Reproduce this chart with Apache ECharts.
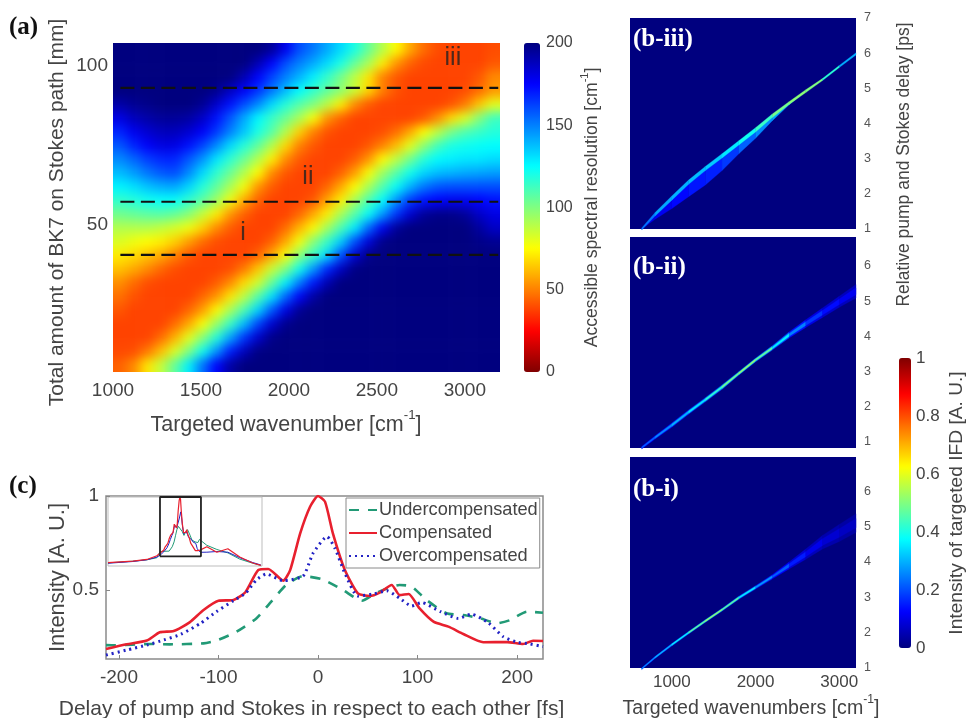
<!DOCTYPE html>
<html><head><meta charset="utf-8">
<style>html,body{margin:0;padding:0;background:#fff}#c{width:966px;height:718px}</style>
<script src="https://cdn.jsdelivr.net/npm/echarts@6/dist/echarts.min.js"></script>
</head><body><div id="c"></div>
<script>
// ---- panel (a): accessible spectral resolution, rows top to bottom
const resolutionRows = [
[200,200,200,200,200,200,200,200,200,200,200,195,178,160,152,142,132,120,105,90,75,58,46,40,38,38,38,40],
[200,200,200,200,200,200,200,200,200,200,190,175,160,150,142,132,120,105,92,72,54,44,39,38,38,38,38,42],
[200,200,200,200,200,200,200,200,200,190,175,162,150,140,128,115,102,88,70,50,42,38,38,38,38,38,42,52],
[200,200,200,200,200,200,200,197,187,176,165,152,138,125,115,106,97,85,67,50,41,38,38,38,38,40,46,55],
[192,196,198,200,200,200,196,185,172,160,148,132,118,108,100,88,72,52,42,38,38,38,38,38,41,49,64,80],
[180,188,192,195,195,193,186,172,158,142,126,114,104,92,76,54,44,38,38,38,38,38,42,53,68,82,99,113],
[168,178,184,188,188,184,176,164,150,136,120,108,90,66,50,41,38,38,38,40,46,58,75,88,102,110,114,118],
[158,168,176,181,180,172,162,148,132,118,106,90,68,50,42,38,38,38,42,50,62,80,97,112,120,122,124,125],
[148,155,163,168,168,158,146,130,116,104,90,72,52,42,38,38,38,43,54,74,88,103,118,126,128,130,130,132],
[138,144,152,158,160,148,132,116,104,90,75,52,42,38,38,38,44,56,76,94,108,122,133,138,140,142,143,144],
[127,131,137,141,142,133,118,106,92,77,54,43,38,38,38,45,58,75,92,109,124,140,152,158,160,160,160,160],
[115,118,122,124,124,116,107,94,78,58,44,38,38,38,42,57,72,92,110,125,146,164,172,175,178,178,175,172],
[103,105,107,108,105,98,86,72,54,44,38,38,38,45,58,72,92,108,124,145,165,184,195,198,198,195,186,180],
[90,90,90,87,83,78,66,52,43,38,38,38,46,60,74,93,110,128,155,178,195,200,200,200,200,200,194,186],
[82,78,75,72,66,56,46,40,38,38,38,44,58,77,98,114,134,160,182,198,200,200,200,200,200,200,198,196],
[71,68,63,58,50,42,38,38,38,38,44,58,76,98,114,132,160,184,198,200,200,200,200,200,200,200,200,200],
[63,58,52,45,40,38,38,38,40,49,64,85,100,122,145,168,187,199,200,200,200,200,200,200,200,200,200,200],
[53,46,40,38,38,38,38,43,52,68,84,105,127,151,171,190,200,200,200,200,200,200,200,200,200,200,200,200],
[47,41,38,38,38,38,45,54,70,88,108,130,155,176,193,200,200,200,200,200,200,200,200,200,200,200,200,200],
[42,38,38,38,38,45,56,74,92,110,133,158,180,196,200,200,200,200,200,200,200,200,200,200,200,200,200,200],
[38,38,38,38,46,58,76,95,114,138,162,184,197,200,200,200,200,200,200,200,200,200,200,200,200,200,200,200],
[38,38,38,46,60,80,98,118,143,165,185,198,200,200,200,200,200,200,200,200,200,200,200,200,200,200,200,200],
[39,40,48,62,82,100,122,146,170,188,199,200,200,200,200,200,200,200,200,200,200,200,200,200,200,200,200,200],
[44,52,70,87,106,128,153,175,193,200,200,200,200,200,200,200,200,200,200,200,200,200,200,200,200,200,200,200]
];
const dashLevels = [93.1, 57.3, 40.6];
const dashSpan = [1042, 3190];
const regionNames = ['i', 'ii', 'iii'];
const regionX = [1739, 2108, 2932];
const regionY = [47.6, 65.2, 102.3];
const aXTicks = [1000, 1500, 2000, 2500, 3000];
const aYTicks = [50, 100];

// ---- panels (b): ridge of the targeted IFD
const ridgeWn = [640,800,1000,1200,1400,1600,1800,2000,2200,2400,2600,2800,3000,3200];
const b3Centre = [1.0,1.42,1.88,2.33,2.72,3.08,3.45,3.82,4.22,4.58,4.92,5.25,5.62,5.98];
const b3Half   = [.03,.05,.06,.06,.06,.06,.06,.06,.05,.04,.04,.03,.03,.03];
const b3Level  = [.2,.28,.3,.3,.32,.33,.38,.4,.46,.52,.5,.5,.33,.26];
const b3Lower  = [1.0,1.28,1.58,1.92,2.25,2.66,3.14,3.58,4.08,4.53,4.92,5.25,5.62,5.98];
const b3LowerLevel = [.1,.1,.12,.14,.15,.16,.2,.24,.28,.3,.3,.3,.2,.2];
const b2Centre = [.84,1.13,1.48,1.85,2.2,2.56,2.95,3.33,3.67,4.04,4.36,4.67,4.98,5.28];
const b2Half   = [.03,.04,.05,.05,.05,.05,.04,.04,.05,.07,.09,.11,.13,.16];
const b2Level  = [.2,.25,.28,.32,.38,.45,.52,.52,.42,.3,.2,.15,.12,.1];
const b1Centre = [.98,1.3,1.66,2.0,2.33,2.65,2.99,3.28,3.58,3.9,4.22,4.56,4.82,5.1];
const b1Half   = [.02,.025,.03,.03,.03,.03,.035,.04,.05,.08,.12,.16,.2,.22];
const b1Level  = [.25,.3,.33,.42,.52,.52,.42,.3,.25,.18,.12,.09,.07,.06];
const bDelayTicks3 = [1,2,3,4,5,6,7];
const bDelayTicks = [1,2,3,4,5,6];
const bWnTicks = [1000,2000,3000];

// ---- panel (c)
const compX = [-213,-192,-172,-159,-145,-129,-115,-100,-85,-73,-60,-50,-35,-28,-18,-8,0,7,15,27,40,52,62,74,82,91,102,116,131,146,166,190,206,216,226];
const compY = [.186,.211,.231,.275,.282,.328,.394,.443,.447,.488,.606,.612,.55,.606,.8,.943,1,.97,.8,.606,.482,.468,.486,.527,.473,.479,.402,.332,.305,.266,.222,.223,.213,.23,.229];
const overX = [-213,-192,-172,-155,-138,-118,-102,-85,-73,-62,-52,-35,-15,-5,9,17,27,40,56,69,82,94,104,123,141,154,171,186,200,213,226];
const overY = [.154,.181,.207,.234,.264,.323,.385,.443,.482,.553,.585,.55,.574,.695,.784,.722,.589,.468,.479,.496,.456,.415,.433,.385,.349,.371,.326,.252,.222,.213,.199];
const underX = [-213,-204,-169,-149,-115,-102,-82,-62,-47,-32,-15,4,25,44,59,82,94,109,129,146,163,180,193,210,226];
const underY = [.207,.206,.213,.211,.216,.231,.278,.349,.438,.527,.574,.557,.5,.443,.486,.527,.518,.447,.376,.367,.349,.323,.34,.385,.379];
const insetLeftX = [-770,-503,-353,-246];
const insetRightX = [289,396,514,642,781,867];
const compLeft = [.048,.071,.095,.148], compRight = [.28,.2,.25,.13,.043,.01];
const overLeft = [.04,.065,.09,.13],    overRight = [.2,.21,.2,.12,.05,.015];
const underLeft = [.045,.07,.09,.12],   underRight = [.3,.24,.19,.1,.04,.01];
const zoomBoxX = [-213,226,226,-213,-213];
const zoomBoxY = [.14,.14,1,1,.14];
const cXTicks = [-200,-100,0,100,200];
const cYTicks = [.5,1];

// ---- colours
const jet = ['#00007f','#0000ff','#0080ff','#00ffff','#80ff80','#ffff00','#ff8000','#ff0000','#800000'];
const SANS = '"Liberation Sans",Arial,sans-serif', SERIF = '"Liberation Serif",serif';
const INK = '#444';
const RED = '#e8202e', BLUE = '#2222c4', GREEN = '#229a76';

// ---- layout
const A = {l:113,t:43,w:387,h:329};
const B = [{t:18,h:211},{t:237,h:211},{t:457,h:211}];
const nC = resolutionRows[0].length, nR = resolutionRows.length;
const cw = A.w/nC, ch = A.h/nR;

// heat grid has one repeated cell on every side so that softening stays even up to the frame
const heatData = [];
for (let r=-1;r<=nR;r++) for (let c=-1;c<=nC;c++){
  const rr=Math.min(nR-1,Math.max(0,r)), cc=Math.min(nC-1,Math.max(0,c));
  heatData.push([c+1,r+1,resolutionRows[rr][cc]]);
}
const zip=(x,y)=>x.map((v,i)=>[v,y[i]]);
function strip(wn,top,bot,lev){
  const d=[];
  for(let i=0;i<wn.length-1;i++) d.push([wn[i],top[i],bot[i],wn[i+1],top[i+1],bot[i+1],(lev[i]+lev[i+1])/2]);
  return d;
}
function ridgeSeries(g,data,z){
  return {type:'custom',xAxisIndex:g,yAxisIndex:g,zlevel:1,z:z,silent:true,animation:false,
    dimensions:['a','b','c','d','e','f','v'],encode:{x:[0,3],y:[1,2,4,5]},data:data,
    renderItem:(p,api)=>{
      const P=[api.coord([api.value(0),api.value(1)]),api.coord([api.value(3),api.value(4)]),
               api.coord([api.value(3),api.value(5)]),api.coord([api.value(0),api.value(2)])];
      return {type:'polygon',shape:{points:P},style:{fill:api.visual('color'),stroke:api.visual('color'),lineWidth:.3}};
    }};
}
const plus=(a,b,k)=>a.map((v,i)=>v+b[i]*k);
const scale=(a,k)=>a.map(v=>v*k);

const grids=[
 {left:A.l-cw,top:A.t-ch,width:A.w+2*cw,height:A.h+2*ch,zlevel:0},            // 0 heat
 {left:A.l,top:A.t,width:A.w,height:A.h,zlevel:2},                            // 1 a axes
 {left:524,top:43,width:16,height:329,zlevel:2},                              // 2 a colour axis
 {left:630,top:B[0].t,width:226,height:B[0].h,show:true,backgroundColor:jet[0],borderWidth:0,zlevel:1}, //3
 {left:630,top:B[1].t,width:226,height:B[1].h,show:true,backgroundColor:jet[0],borderWidth:0,zlevel:1}, //4
 {left:630,top:B[2].t,width:226,height:B[2].h,show:true,backgroundColor:jet[0],borderWidth:0,zlevel:1}, //5
 {left:899,top:358,width:12,height:290,zlevel:2},                             // 6 b colour axis
 {left:106,top:496,width:437,height:163,show:true,borderColor:'#8a8a8a',borderWidth:1.5,zlevel:2},  // 7 c
 {left:108,top:497,width:154,height:69,show:true,borderColor:'#bdbdbd',borderWidth:1,zlevel:2},     // 8 inset
 {left:856,top:22,width:10,height:285,zlevel:2},                              // 9 title frame: delay
 {left:113,top:20,width:387,height:385,zlevel:2},                             // 10 title frame: BK7
 {left:150,top:43,width:272,height:329,zlevel:2},                             // 11 title frame: wavenumber a
 {left:58,top:496,width:507,height:163,zlevel:2},                             // 12 title frame: delay c
 {left:622,top:457,width:258,height:211,zlevel:2}                             // 13 title frame: wavenumbers b
].map(g=>Object.assign(g,{outerBoundsMode:'none'}));
const noAxis=(g,o)=>Object.assign({gridIndex:g,show:false,zlevel:2},o);
const lbl=(size,extra)=>Object.assign({color:INK,fontFamily:SANS,fontSize:size},extra||{});
const sup=size=>({s:{fontFamily:SANS,fontSize:size*0.62,color:INK,verticalAlign:'top',lineHeight:size*1.5,padding:[0,0,size*0.35,0]}});
const catIdx=n=>Array.from({length:n},(_,i)=>i);
const plain=v=>String(v);
const fixedAxis={splitLine:{show:false},axisLine:{show:false,onZero:false},axisTick:{show:false}};
const titleOnlyX=(g,name,gap,size)=>Object.assign({type:'value',gridIndex:g,zlevel:2,min:0,max:1,axisLabel:{show:false},
  name,nameLocation:'middle',nameGap:gap,nameTextStyle:Object.assign(lbl(size),{rich:sup(size)})},fixedAxis);
const titleOnlyY=(g,name,gap,size,right)=>Object.assign({type:'value',gridIndex:g,zlevel:2,min:0,max:1,position:right?'right':'left',axisLabel:{show:false},
  name,nameLocation:'middle',nameGap:gap,nameRotate:90,nameTextStyle:lbl(size)},fixedAxis);

const xAxes=[
 {type:'category',gridIndex:0,show:false,data:catIdx(nC+2),zlevel:0},
 Object.assign({type:'value',gridIndex:1,zlevel:2,min:1000,max:3200,position:'bottom',
  axisLabel:Object.assign(lbl(19),{customValues:aXTicks,margin:9,formatter:plain,hideOverlap:false})},fixedAxis),
 noAxis(2,{type:'value',min:0,max:1}),
 noAxis(3,{type:'value',min:500,max:3200}),
 noAxis(4,{type:'value',min:500,max:3200}),
 Object.assign({type:'value',gridIndex:5,zlevel:2,min:500,max:3200,
  axisLabel:Object.assign(lbl(17),{customValues:bWnTicks,margin:6,formatter:plain})},fixedAxis),
 noAxis(6,{type:'value',min:0,max:1}),
 {type:'value',gridIndex:7,zlevel:2,min:-213,max:226,splitLine:{show:false},axisLine:{show:false,onZero:false},
  axisTick:{show:true,inside:true,length:4,customValues:cXTicks,lineStyle:{color:'#888'}},
  axisLabel:Object.assign(lbl(19),{customValues:cXTicks,margin:9})},
 noAxis(8,{type:'value',min:-770,max:880}),
 noAxis(9,{type:'value',min:0,max:1}),
 noAxis(10,{type:'value',min:0,max:1}),
 titleOnlyX(11,'Targeted wavenumber [cm{s|-1}]',37,21.5),
 titleOnlyX(12,'Delay of pump and Stokes in respect to each other [fs]',40,21),
 titleOnlyX(13,'Targeted wavenumbers [cm{s|-1}]',26,19.6)
];
const yAxes=[
 {type:'category',gridIndex:0,show:false,inverse:true,data:catIdx(nR+2),zlevel:0},
 Object.assign({type:'value',gridIndex:1,zlevel:2,min:3.8,max:107.2,
  axisLabel:Object.assign(lbl(19),{customValues:aYTicks,margin:5})},fixedAxis),
 Object.assign({type:'value',gridIndex:2,zlevel:2,min:0,max:200,interval:50,position:'right',
  axisLabel:lbl(16,{margin:6}),
  name:'Accessible spectral resolution [cm{s|-1}]',nameLocation:'middle',nameGap:39,nameRotate:90,nameTextStyle:Object.assign(lbl(17.6),{rich:sup(17.6)})},fixedAxis),
 Object.assign({type:'value',gridIndex:3,zlevel:2,min:1,max:7,position:'right',
  axisLabel:lbl(12.5,{customValues:bDelayTicks3,margin:8,color:'#555'})},fixedAxis),
 Object.assign({type:'value',gridIndex:4,zlevel:2,min:.83,max:6.82,position:'right',
  axisLabel:lbl(12.5,{customValues:bDelayTicks,margin:8,color:'#555'})},fixedAxis),
 Object.assign({type:'value',gridIndex:5,zlevel:2,min:1,max:6.97,position:'right',
  axisLabel:lbl(12.5,{customValues:bDelayTicks,margin:8,color:'#555'})},fixedAxis),
 Object.assign({type:'value',gridIndex:6,zlevel:2,min:0,max:1,interval:.2,position:'right',
  axisLabel:lbl(17,{margin:5}),
  name:'Intensity of targeted IFD [A. U.]',nameLocation:'middle',nameGap:36,nameRotate:90,nameTextStyle:lbl(19.2)},fixedAxis),
 {type:'value',gridIndex:7,zlevel:2,min:.133,max:1,splitLine:{show:false},axisLine:{show:false,onZero:false},
  axisTick:{show:true,inside:true,length:4,customValues:cYTicks,lineStyle:{color:'#888'}},
  axisLabel:Object.assign(lbl(19),{customValues:cYTicks,margin:7}),
  name:'Intensity [A. U.]',nameLocation:'middle',nameGap:37,nameTextStyle:lbl(22)},
 noAxis(8,{type:'value',min:0,max:1}),
 titleOnlyY(9,'Relative pump and Stokes delay [ps]',29,17.5,true),
 titleOnlyY(10,'Total amount of BK7 on Stokes path [mm]',45,21,false),
 noAxis(11,{type:'value',min:0,max:1}),
 noAxis(12,{type:'value',min:0,max:1}),
 noAxis(13,{type:'value',min:0,max:1})
];

const line=(g,name,data,color,width,type,smooth)=>({type:'line',name,xAxisIndex:g,yAxisIndex:g,zlevel:2,z:3,data,symbol:'none',smooth:smooth||false,silent:true,animation:false,
  lineStyle:{color,width,type:type||'solid'},itemStyle:{color}});

const series=[
 {type:'heatmap',xAxisIndex:0,yAxisIndex:0,zlevel:0,data:heatData,silent:true,progressive:0,animation:false,itemStyle:{borderWidth:0},emphasis:{disabled:true}},
 ridgeSeries(3,strip(ridgeWn,b3Centre,b3Lower,b3LowerLevel),1),
 ridgeSeries(3,strip(ridgeWn,plus(b3Centre,b3Half,1),plus(b3Centre,b3Half,-1),b3Level),2),
 ridgeSeries(4,strip(ridgeWn,plus(b2Centre,b2Half,1.2),plus(b2Centre,b2Half,-1.2),scale(b2Level,.55)),1),
 ridgeSeries(4,strip(ridgeWn,plus(b2Centre,b2Half,.6),plus(b2Centre,b2Half,-.6),b2Level),2),
 ridgeSeries(5,strip(ridgeWn,plus(b1Centre,b1Half,1.2),plus(b1Centre,b1Half,-1.2),scale(b1Level,.55)),1),
 ridgeSeries(5,strip(ridgeWn,plus(b1Centre,b1Half,.6),plus(b1Centre,b1Half,-.6),b1Level),2),
 ...dashLevels.map((v,i)=>line(1,'level '+regionNames[i],dashSpan.map(x=>[x,v]),'#111',2.2,[14,6.5])),
 {type:'scatter',xAxisIndex:1,yAxisIndex:1,zlevel:2,z:4,symbolSize:0,silent:true,animation:false,
  data:regionNames.map((n,i)=>({name:n,value:[regionX[i],regionY[i]]})),
  label:{show:true,position:'inside',formatter:'{b}',color:'#222',fontFamily:SANS,fontSize:25}},
 line(7,'Undercompensated',zip(underX,underY),GREEN,2.6,[10,9],.2),
 line(7,'Compensated',zip(compX,compY),RED,2.6,'solid',.2),
 line(7,'Overcompensated',zip(overX,overY),BLUE,3,[2,4],.2),
 line(8,'inset under',zip([...insetLeftX,...underX,...insetRightX],[...underLeft,...underY,...underRight]),GREEN,1),
 line(8,'inset over',zip([...insetLeftX,...overX,...insetRightX],[...overLeft,...overY,...overRight]),BLUE,1),
 line(8,'inset comp',zip([...insetLeftX,...compX,...insetRightX],[...compLeft,...compY,...compRight]),RED,1.2),
 line(8,'zoom box',zip(zoomBoxX,zoomBoxY),'#222',1.8)
];

const tag=(text,left,top,color)=>({text,left,top,zlevel:2,padding:0,textStyle:{color,fontFamily:SERIF,fontWeight:'bold',fontSize:25}});

const chart=echarts.init(document.getElementById('c'),null,{renderer:'canvas'});
chart.setOption({
 animation:false,
 title:[tag('(a)',9,15,'#111'),tag('(c)',9,474,'#111'),tag('(b-iii)',633,27,'#fff'),tag('(b-ii)',633,255,'#fff'),tag('(b-i)',633,477,'#fff')],
 grid:grids,xAxis:xAxes,yAxis:yAxes,series,
 legend:{zlevel:2,z:6,left:346,top:498,orient:'vertical',padding:[3,2,3,2],itemWidth:28,itemHeight:10,itemGap:5,selectedMode:false,
  data:['Undercompensated','Compensated','Overcompensated'],itemStyle:{opacity:0,color:'transparent',borderColor:'transparent'},
  backgroundColor:'#fff',borderColor:'#8a8a8a',borderWidth:1,textStyle:lbl(18.2,{padding:[0,0,0,-3]})},
 visualMap:[
  {type:'continuous',seriesIndex:0,dimension:2,min:0,max:200,zlevel:2,left:524,top:43,padding:0,itemWidth:16,itemHeight:329,
   calculable:false,hoverLink:false,text:null,inRange:{color:jet.slice().reverse()}},
  {type:'continuous',seriesIndex:[1,2,3,4,5,6],dimension:6,min:0,max:1,zlevel:2,left:899,top:358,padding:0,itemWidth:12,itemHeight:290,
   calculable:false,hoverLink:false,text:null,inRange:{color:jet}}
 ]
});
function soften(){
  const c0=document.querySelector('canvas[data-zr-dom-id="zr_0"]');
  if(c0){c0.style.filter='blur(5.5px)';c0.style.clipPath='inset('+A.t+'px '+(966-A.l-A.w)+'px '+(718-A.t-A.h)+'px '+A.l+'px)';}
  const c1=document.querySelector('canvas[data-zr-dom-id="zr_1"]');
  if(c1){c1.style.filter='blur(.7px)';}
  const c2=document.querySelector('canvas[data-zr-dom-id="zr_2"]');
  if(c2){c2.style.filter='blur(.35px)';}
}
soften();chart.on('finished',soften);
</script></body></html>
